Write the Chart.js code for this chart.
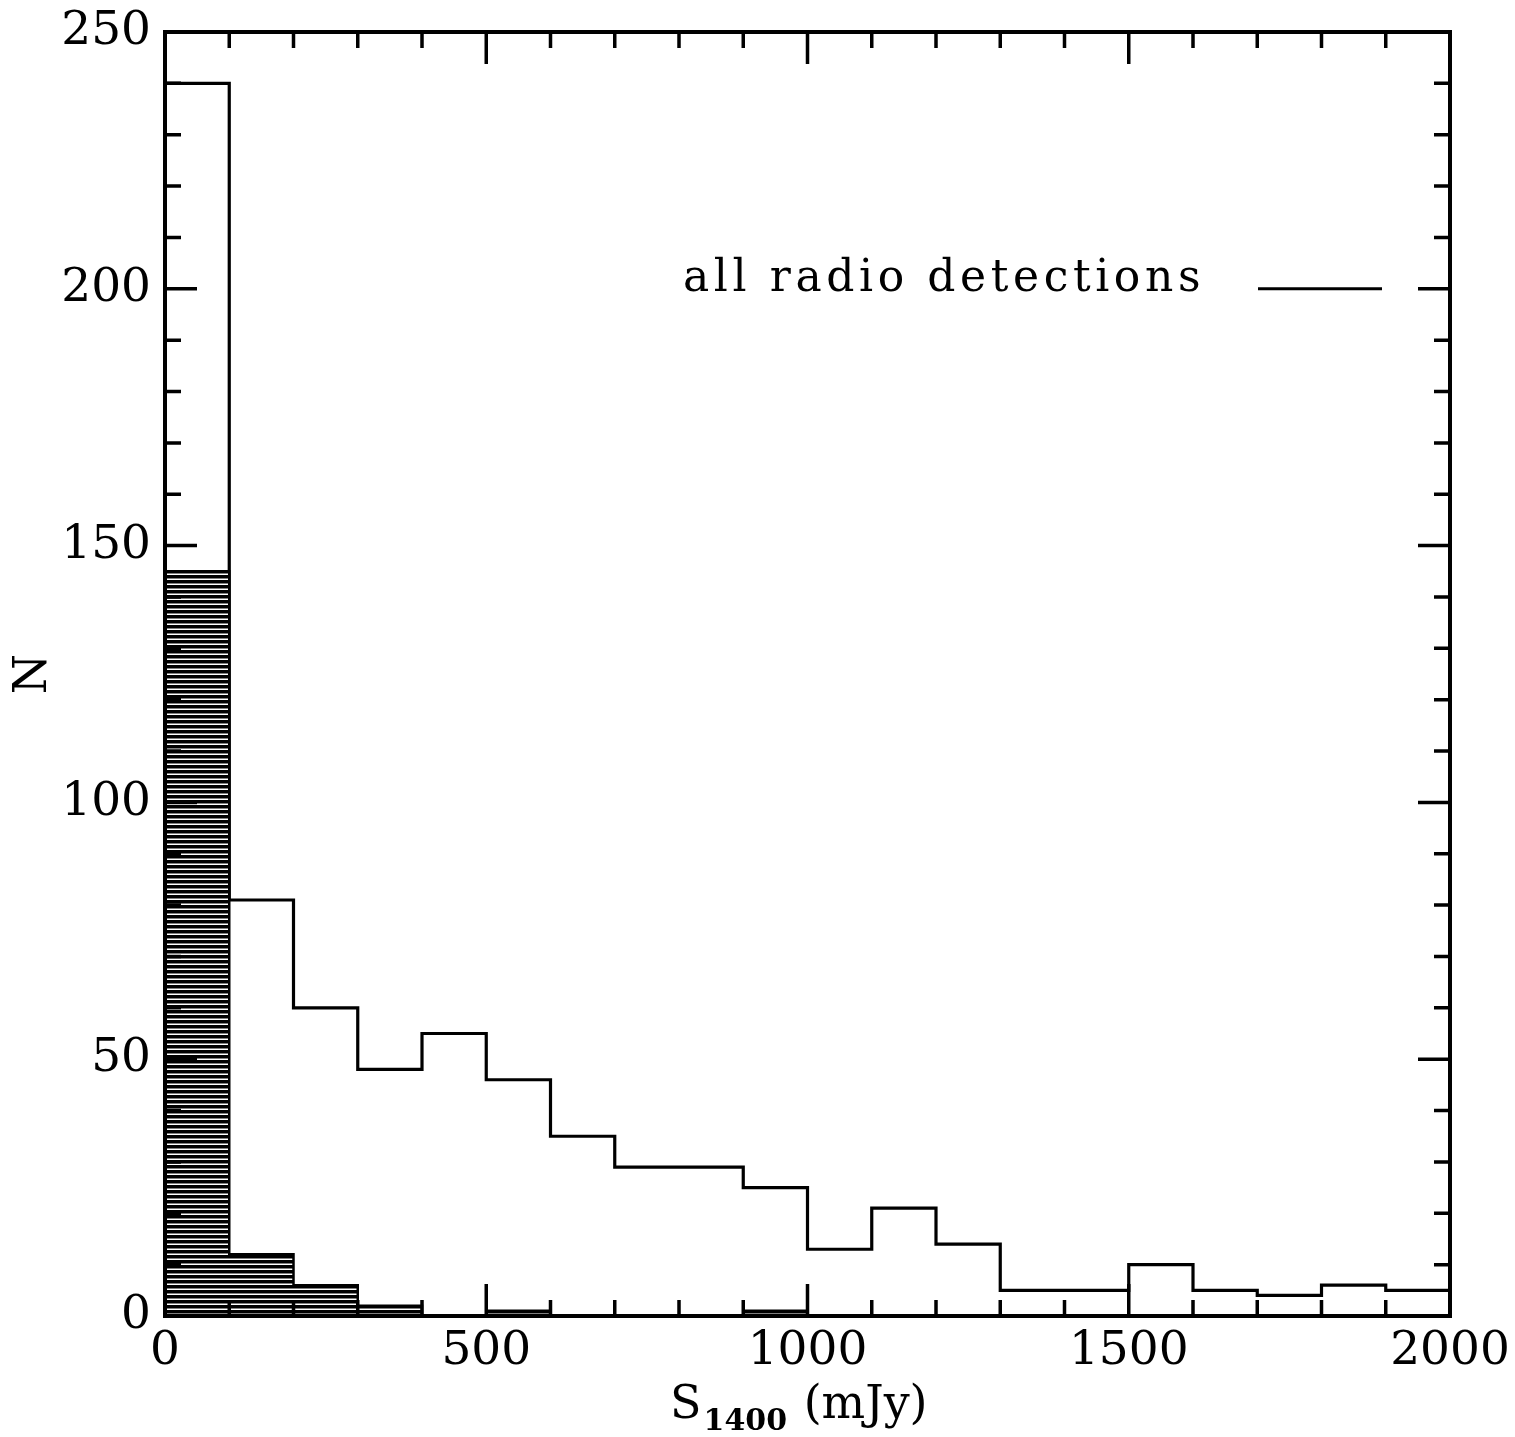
<!DOCTYPE html>
<html>
<head>
<meta charset="utf-8">
<script src="https://cdn.jsdelivr.net/npm/chart.js@4.4.0/dist/chart.umd.min.js"></script>
<style>
  html, body { margin: 0; padding: 0; background: #ffffff; }
  #wrap { width: 1515px; height: 1437px; position: relative; }
</style>
</head>
<body>
<div id="wrap"><canvas id="chartjs-0" width="1515" height="1437"></canvas></div>
<script>
// bin edges (mJy), left edge of each 100 mJy bin plus the last right edge
var binEdges = [0, 100, 200, 300, 400, 500, 600, 700, 800, 900, 1000,
                1100, 1200, 1300, 1400, 1500, 1600, 1700, 1800, 1900, 2000];
// open histogram - all radio detections
var allCounts = [240, 81, 60, 48, 55, 46, 35, 29, 29, 25, 13,
                 21, 14, 5, 5, 10, 5, 4, 6, 5];
// shaded histogram
var shadedCounts = [145, 12, 6, 2, 0, 1, 0, 0, 0, 1, 0,
                    0, 0, 0, 0, 0, 0, 0, 0, 0];
var xTickLabels = [0, 500, 1000, 1500, 2000];
var yTickLabels = [0, 50, 100, 150, 200, 250];
var legendText = "all radio detections";

var FONT = "'DejaVu Serif', 'Liberation Serif', serif";

// step points: each bin value at its right edge, so the step is drawn vertical first
// (first point at x=0 carries the first bin value too)
function stepPoints(counts) {
    var pts = [{ x: binEdges[0], y: counts[0] }];
    for (var i = 0; i < counts.length; i++) {
        pts.push({ x: binEdges[i + 1], y: counts[i] });
    }
    return pts;
}

// horizontal line hatching for the shaded histogram
var pc = document.createElement("canvas");
pc.width = 8;
pc.height = 5;
var pctx = pc.getContext("2d");
pctx.fillStyle = "#ffffff";
pctx.fillRect(0, 0, 8, 5);
pctx.fillStyle = "#000000";
pctx.fillRect(0, 0, 8, 3.5);

function noPad(s) {
    s.paddingTop = 0;
    s.paddingBottom = 0;
    s.paddingLeft = 0;
    s.paddingRight = 0;
}

var frameTicks = {
    id: "frameTicks",
    afterDatasetsDraw: function (chart) {
        var ctx = chart.ctx;
        var a = chart.chartArea;
        var xs = chart.scales.x, ys = chart.scales.y;
        ctx.save();
        ctx.strokeStyle = "#000";
        ctx.lineWidth = 4;
        ctx.lineCap = "square";
        ctx.strokeRect(a.left, a.top, a.right - a.left, a.bottom - a.top);
        ctx.lineCap = "butt";
        ctx.lineWidth = 3.5;
        ctx.beginPath();
        for (var v = 0; v <= 2000; v += 100) {
            var px = xs.getPixelForValue(v);
            var len = (v % 500 === 0) ? 32 : 16;
            ctx.moveTo(px, a.bottom); ctx.lineTo(px, a.bottom - len);
            ctx.moveTo(px, a.top); ctx.lineTo(px, a.top + len);
        }
        for (var w = 0; w <= 250; w += 10) {
            var py = ys.getPixelForValue(w);
            var l2 = (w % 50 === 0) ? 32 : 16;
            ctx.moveTo(a.left, py); ctx.lineTo(a.left + l2, py);
            ctx.moveTo(a.right, py); ctx.lineTo(a.right - l2, py);
        }
        ctx.stroke();

        // legend
        var ly = ys.getPixelForValue(200);
        ctx.fillStyle = "#000";
        ctx.font = "44px " + FONT;
        ctx.textBaseline = "alphabetic";
        ctx.textAlign = "left";
        ctx.letterSpacing = "4.6px";
        ctx.fillText(legendText, 683, ly + 2);
        ctx.letterSpacing = "0px";
        ctx.lineWidth = 3;
        ctx.beginPath();
        ctx.moveTo(1258, ly);
        ctx.lineTo(1382, ly);
        ctx.stroke();

        // axis titles
        ctx.textAlign = "left";
        ctx.font = "46px " + FONT;
        var sx = 670, sy = 1418;
        ctx.fillText("S", sx, sy);
        var sw = ctx.measureText("S").width;
        ctx.font = "bold 30px " + FONT;
        ctx.fillText("1400", sx + sw + 2, sy + 12);
        var subw = ctx.measureText("1400").width;
        ctx.font = "46px " + FONT;
        ctx.fillText(" (mJy)", sx + sw + 4 + subw, sy);

        ctx.save();
        ctx.translate(46, (a.top + a.bottom) / 2);
        ctx.rotate(-Math.PI / 2);
        ctx.textAlign = "center";
        ctx.fillText("N", 0, 0);
        ctx.restore();
        ctx.restore();
    }
};

var ctx = document.getElementById("chartjs-0");
var myChart = new Chart(ctx, {
    type: "line",
    data: {
        datasets: [{
            label: "shaded",
            data: stepPoints(shadedCounts),
            stepped: "after",
            fill: "origin",
            backgroundColor: pctx.createPattern(pc, "repeat"),
            borderColor: "#000",
            borderWidth: 2.5,
            pointRadius: 0
        }, {
            label: legendText,
            data: stepPoints(allCounts),
            stepped: "after",
            fill: false,
            borderColor: "#000",
            borderWidth: 3.2,
            pointRadius: 0
        }]
    },
    options: {
        responsive: false,
        animation: false,
        maintainAspectRatio: false,
        layout: { padding: { left: 0, top: 32, right: 65, bottom: 0 } },
        plugins: { legend: { display: false }, tooltip: { enabled: false } },
        scales: {
            x: {
                type: "linear",
                min: 0, max: 2000,
                grid: { display: false, drawTicks: false },
                border: { display: false },
                afterFit: function (s) { s.height = 121; noPad(s); },
                afterBuildTicks: function (s) {
                    s.ticks = xTickLabels.map(function (v) { return { value: v }; });
                },
                ticks: {
                    color: "#000", font: { family: FONT, size: 47 }, padding: 8, maxRotation: 0,
                    callback: function (v) { return String(v); }
                }
            },
            y: {
                min: 0, max: 250,
                grid: { display: false, drawTicks: false },
                border: { display: false },
                afterFit: function (s) { s.width = 165; noPad(s); },
                afterBuildTicks: function (s) {
                    s.ticks = yTickLabels.map(function (v) { return { value: v }; });
                },
                ticks: {
                    color: "#000", font: { family: FONT, size: 47 }, padding: 14,
                    callback: function (v) { return String(v); }
                }
            }
        }
    },
    plugins: [frameTicks]
});
</script>
</body>
</html>
